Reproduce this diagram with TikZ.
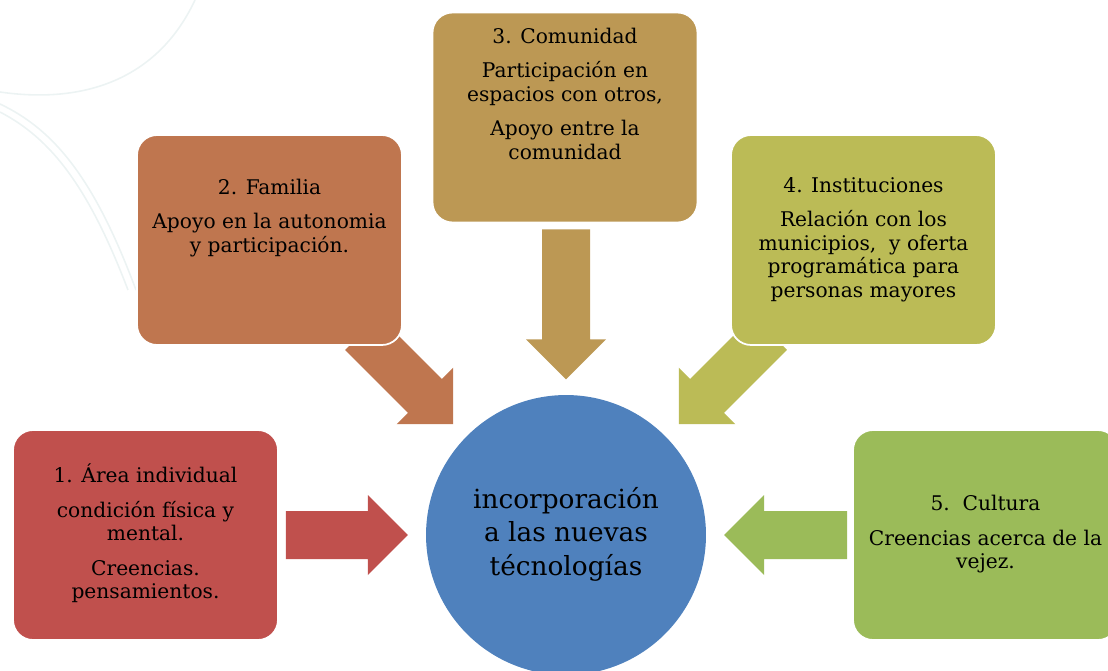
\documentclass[tikz,border=0pt]{standalone}
\usepackage{fontspec}
\setmainfont{DejaVu Serif}
\usetikzlibrary{calc,positioning}

\definecolor{areacol}{HTML}{C0504D}
\definecolor{familiacol}{RGB}{191,118,79}
\definecolor{comunidadcol}{RGB}{188,152,84}
\definecolor{institucol}{RGB}{187,187,86}
\definecolor{culturacol}{HTML}{9BBB59}
\definecolor{hubcol}{HTML}{4F81BD}
\definecolor{bgline}{RGB}{236,243,243}

\begin{document}
\begin{tikzpicture}[x=0.02cm,y=-0.02cm,
                    factor/.style={rounded corners=0.4cm,draw=white,line width=1pt,minimum width=5.3cm,
                                   minimum height=4.2cm,inner sep=0pt,font=\fontsize{11.5pt}{13.5pt}\selectfont},
                    area/.style={factor,fill=areacol},
                    familia/.style={factor,fill=familiacol},
                    comunidad/.style={factor,fill=comunidadcol},
                    instituciones/.style={factor,fill=institucol},
                    cultura/.style={factor,fill=culturacol},
                    hub/.style={circle,fill=hubcol,minimum size=5.6cm,inner sep=0pt,
                                font=\fontsize{15pt}{19pt}\selectfont},
                    pics/blockarrow/.style={code={
                      \fill[pic actions] (0,-24) -- (#1-40,-24) -- (#1-40,-40) -- (#1,0)
                                         -- (#1-40,40) -- (#1-40,24) -- (0,24) -- cycle;}}]
      \useasboundingbox (0,0) rectangle (1108,670);

      % faint background curves
      \draw[bgline,line width=0.9pt] (195,0) .. controls (160,75) and (90,105) .. (0,92);
      \draw[bgline,line width=0.9pt] (0,104) .. controls (55,130) and (95,180) .. (136,290);
      \draw[bgline,line width=0.9pt] (0,112) .. controls (50,138) and (88,185) .. (128,290);

      \node[hub] (hub) at (566,535) {
        \begin{tabular}{c}
          incorporación \\
          a las nuevas \\
          técnologías
        \end{tabular}
      };

      \node (areapos) at (145.5,535) {};
      \node (familiapos) at (269.5,240) {};
      \node (comunidadpos) at (565,117.5) {};
      \node (institucionespos) at (863.5,240) {};
      \node (culturapos) at (985.5,535) {};

      \pic[fill=familiacol] at ($(familiapos)+(92.5,93)$) [rotate=-45] {blockarrow=129};
      \pic[fill=institucol] at ($(institucionespos)+(-93.5,93)$) [rotate=-135] {blockarrow=129};

      \node[area] (area) at (areapos) {
        \begin{tabular}{c}
          1. Área individual \\[6pt]
          condición física y \\
          mental. \\[6pt]
          Creencias. \\
          pensamientos.
        \end{tabular}
      };
      \node[familia] (familia) at (familiapos) {
        \begin{tabular}{c}
          2. Familia \\[6pt]
          Apoyo en la autonomia \\
          y participación. \\[24pt]
        \end{tabular}
      };
      \node[comunidad] (comunidad) at (comunidadpos) {
        \begin{tabular}{c}
          3. Comunidad \\[6pt]
          Participación en \\
          espacios con otros, \\[6pt]
          Apoyo entre la \\
          comunidad \\[24pt]
        \end{tabular}
      };
      \node[instituciones] (instituciones) at (institucionespos) {
        \begin{tabular}{c}
          4. Instituciones \\[6pt]
          Relación con los \\
          municipios,\ \ y oferta \\
          programática para \\
          personas mayores
        \end{tabular}
      };
      \node[cultura] (cultura) at (culturapos) {
        \begin{tabular}{c}
          5.\ \ Cultura \\[6pt]
          Creencias acerca de la \\
          vejez.
        \end{tabular}
      };

      \pic[fill=areacol] at ($(area.east)+(7,0)$) {blockarrow=122};
      \pic[fill=comunidadcol] at ($(comunidad.south)+(1,6)$) [rotate=-90] {blockarrow=150};
      \pic[fill=culturacol] at ($(cultura.west)+(-5,0)$) [rotate=180] {blockarrow=123};
    \end{tikzpicture}
\end{document}
